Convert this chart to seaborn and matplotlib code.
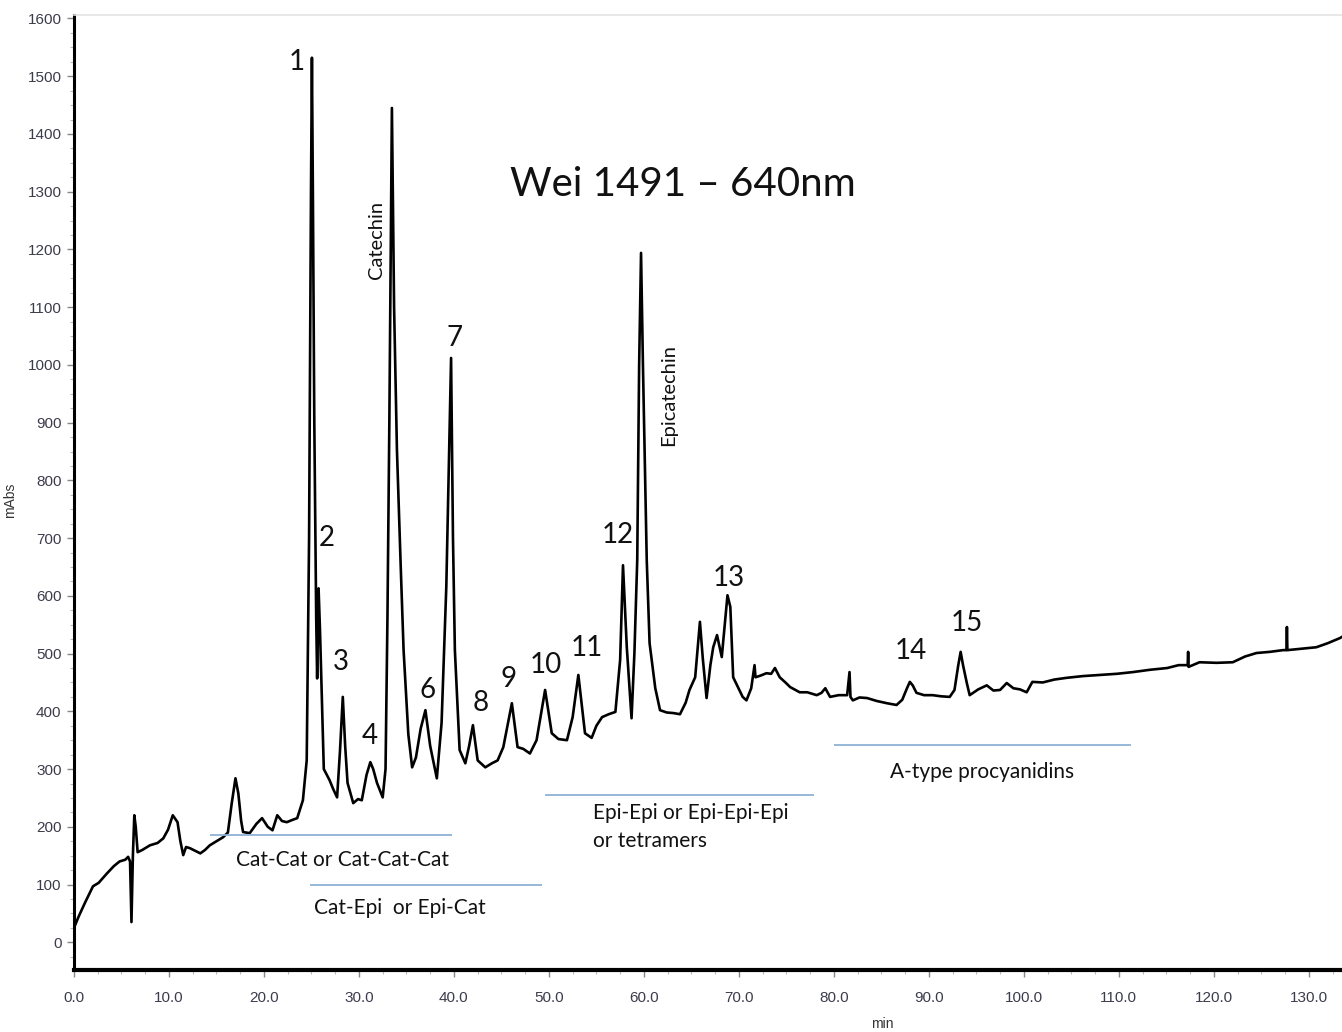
import matplotlib
matplotlib.use("Agg")
import matplotlib.pyplot as plt
import matplotlib.ticker as mticker
import seaborn as sns
import pandas as pd

# ---- chromatogram trace (time in min, signal in mAbs) ----
time_min = [
    0.0, 0.5, 1.2, 2.0, 2.6, 3.4, 4.2, 4.8, 5.4, 5.7, 5.9, 6.05, 6.2, 6.35, 6.5, 6.7,
    7.2, 8.0, 8.8, 9.4, 9.9, 10.4, 10.9, 11.2, 11.5, 11.8, 12.2, 12.8, 13.3, 13.8, 14.3,
    15.0, 15.7, 16.2, 16.6, 17.0, 17.3, 17.6, 17.8, 18.5, 19.2, 19.8, 20.4, 20.9, 21.4,
    21.9, 22.4, 23.0, 23.5, 24.1, 24.5, 24.75, 24.95, 25.05, 25.15, 25.3, 25.5, 25.6,
    25.75, 25.9, 26.1, 26.3, 26.9, 27.3, 27.7, 28.0, 28.3, 28.55, 28.8, 29.4, 29.9, 30.3,
    30.8, 31.2, 31.5, 31.9, 32.5, 32.8, 33.0, 33.2, 33.47, 33.7, 34.0, 34.4, 34.7, 35.2,
    35.6, 36.0, 36.5, 37.0, 37.5, 38.2, 38.7, 39.2, 39.7, 39.9, 40.1, 40.6, 41.2, 41.6,
    42.0, 42.5, 43.3, 44.0, 44.6, 45.2, 46.1, 46.7, 47.3, 48.0, 48.7, 49.6, 50.3, 51.0,
    51.9, 52.5, 53.1, 53.8, 54.5, 55.0, 55.6, 56.3, 57.0, 57.5, 57.8, 58.2, 58.7, 59.0,
    59.3, 59.5, 59.7, 59.9, 60.3, 60.6, 61.2, 61.7, 62.4, 63.1, 63.8, 64.4, 64.8, 65.4,
    65.9, 66.2, 66.6, 67.0, 67.3, 67.7, 68.2, 68.8, 69.1, 69.4, 69.9, 70.4, 70.8, 71.3,
    71.65, 71.75, 72.3, 72.9, 73.4, 73.8, 74.3, 74.9, 75.4, 76.4, 77.2, 78.2, 78.7, 79.1,
    79.6, 80.5, 81.4, 81.65, 81.75, 82.0, 82.7, 83.5, 84.5, 85.6, 86.6, 87.2, 87.7, 88.0,
    88.3, 88.7, 89.5, 90.4, 91.3, 92.2, 92.7, 93.1, 93.35, 93.6, 94.0, 94.3, 95.2, 96.1,
    96.8, 97.5, 98.2, 98.9, 99.6, 100.3, 100.9, 102.0, 103.2, 104.5, 106.2, 108.0, 109.8,
    111.5, 113.3, 115.1, 116.3, 117.25, 117.3, 117.35, 118.5, 120.3, 122.0, 123.3, 124.5,
    125.9, 127.3, 127.65, 127.7, 127.75, 129.0, 130.8, 132.0, 133.3, 133.6,
]
signal_mabs = [
    25, 45, 70, 97, 103, 118, 132, 140, 143, 148, 140, 35, 150, 220, 200, 156,
    160, 168, 172, 180, 195, 220, 208, 175, 151, 165, 163, 158, 154, 160, 168,
    175, 182, 190, 240, 284, 258, 210, 191, 189, 205, 215, 200, 194, 220,
    210, 208, 212, 215, 246, 315, 700, 1300, 1532, 1300, 900, 560, 457,
    613, 540, 420, 300, 281, 265, 251, 330, 425, 340, 276, 241, 248, 246,
    290, 312, 300, 276, 251, 300, 560, 900, 1445, 1100, 853, 650, 506, 360,
    303, 320, 370, 402, 340, 284, 380, 617, 1012, 700, 506, 333, 310, 340,
    376, 315, 303, 310, 315, 338, 414, 338, 335, 327, 350, 437, 362, 352,
    350, 390, 463, 362, 354, 375, 390, 395, 399, 489, 653, 511, 388, 500,
    662, 1000, 1194, 1000, 662, 518, 440, 402, 398, 397, 395, 415, 437, 459,
    555, 492, 423, 480, 511, 532, 494, 601, 581, 459, 442, 425, 419, 440,
    480, 459, 462, 466, 465, 475, 459, 450, 442, 433, 433, 428, 432, 440,
    425, 428, 428, 468, 425, 419, 424, 423, 418, 414, 411, 420, 440, 451,
    445, 432, 428, 428, 426, 425, 437, 480, 503, 480, 449, 428, 438, 445,
    436, 437, 449, 440, 438, 433, 451, 450, 455, 458, 461, 463, 465,
    468, 472, 475, 480, 480, 503, 477, 485, 484, 485, 495, 501,
    503, 506, 506, 546, 506, 508, 511, 518, 527, 530,
]

# ---- peak numbers ----
peak_labels = ["1", "2", "3", "4", "6", "7", "8", "9", "10", "11", "12", "13", "14", "15"]
peak_label_t = [23.4, 26.6, 28.1, 31.1, 37.2, 40.1, 42.8, 45.7, 49.7, 54.0, 57.2, 68.9, 88.1, 94.0]
peak_label_v = [1525, 700, 485, 357, 437, 1047, 414, 456, 480, 510, 705, 631, 504, 553]

# ---- compound group ranges (blue bars) ----
group_names = ["Cat-Cat or Cat-Cat-Cat", "Cat-Epi  or Epi-Cat",
               "Epi-Epi or Epi-Epi-Epi\nor tetramers", "A-type procyanidins"]
group_start = [14.3, 24.8, 49.6, 80.0]
group_end = [39.8, 49.3, 77.9, 111.3]
group_level = [185, 100, 255, 341]

title_text = "Wei 1491 \u2013 640nm"

df = pd.DataFrame({"min": time_min, "mAbs": signal_mabs})

sns.set_style("white")
plt.rcParams["font.family"] = ["Liberation Sans", "DejaVu Sans"]

fig = plt.figure(figsize=(13.42, 10.32), dpi=100)
ax = fig.add_axes([74 / 1342, 1 - 970 / 1032, 1 - 74 / 1342, (970 - 15) / 1032])

sns.lineplot(data=df, x="min", y="mAbs", ax=ax, color="black", linewidth=1.9,
             estimator=None, sort=False)

ax.set_xlim(0, 133.5)
ax.set_ylim(-48, 1606)

ax.xaxis.set_major_locator(mticker.MultipleLocator(10))
ax.xaxis.set_minor_locator(mticker.MultipleLocator(2.5))
ax.xaxis.set_major_formatter(mticker.FormatStrFormatter("%.1f"))
ax.yaxis.set_major_locator(mticker.MultipleLocator(100))
ax.yaxis.set_minor_locator(mticker.MultipleLocator(25))

tick_col = "#3c3c4c"
ax.tick_params(axis="both", which="major", direction="out", length=5, width=1,
               color="#888888", labelsize=11, labelcolor=tick_col, pad=4)
ax.tick_params(axis="both", which="minor", direction="out", length=3, width=0.8,
               color="#bbbbbb")
ax.tick_params(axis="x", which="major", pad=10)
ax.tick_params(axis="both", bottom=True, left=True, which="both")

for s in ("left", "bottom"):
    ax.spines[s].set_color("black")
ax.spines["left"].set_linewidth(2.2)
ax.spines["bottom"].set_linewidth(3.0)
ax.spines["right"].set_visible(False)
ax.spines["top"].set_color("#e4e4e4")
ax.spines["top"].set_linewidth(1.2)

ax.set_xlabel("min", fontsize=10, color="#333333")
ax.set_ylabel("mAbs", fontsize=10, color="#333333")
ax.xaxis.set_label_coords((882 - 74) / 1268, -0.049)
ax.yaxis.set_label_coords(-0.045, 0.492)

ann_font = ["Lato", "DejaVu Sans"]

for lab, t, v in zip(peak_labels, peak_label_t, peak_label_v):
    ax.text(t, v, lab, fontsize=20, ha="center", va="center", family=ann_font, color="#111111")

ax.text(64.1, 1312, title_text, fontsize=29, ha="center", va="center", family=ann_font,
        color="#111111")
ax.text(31.8, 1217, "Catechin", fontsize=14.5, rotation=90, ha="center", va="center",
        family=ann_font, color="#111111")
ax.text(62.6, 948, "Epicatechin", fontsize=14.5, rotation=90, ha="center", va="center",
        family=ann_font, color="#111111")

for x0, x1, lv in zip(group_start, group_end, group_level):
    ax.hlines(lv, x0, x1, color="#8fb2d8", linewidth=1.3)

ax.text(28.3, 142, group_names[0], fontsize=15, ha="center", va="center", family=ann_font,
        color="#111111")
ax.text(34.3, 59, group_names[1], fontsize=15, ha="center", va="center", family=ann_font,
        color="#111111")
ax.text(54.6, 199, group_names[2], fontsize=15, ha="left", va="center", family=ann_font,
        color="#111111", linespacing=1.5)
ax.text(95.6, 295, group_names[3], fontsize=15, ha="center", va="center", family=ann_font,
        color="#111111")

fig.savefig("out.png", dpi=100)
